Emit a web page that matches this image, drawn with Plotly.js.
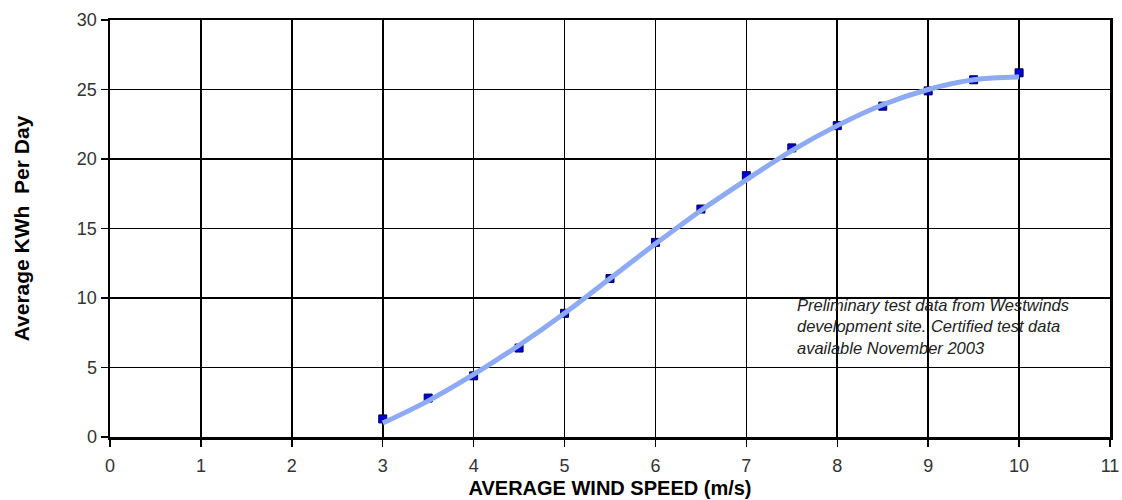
<!DOCTYPE html>
<html>
<head>
<meta charset="utf-8">
<script src="https://cdn.plot.ly/plotly-3.0.1.min.js"></script>
<style>html,body{margin:0;padding:0;background:#fff;}#chart{width:1122px;height:500px;}</style>
</head>
<body>
<div id="chart"></div>
<script>
// Measured data points (average wind speed m/s vs average kWh per day)
const windSpeed = [3, 3.5, 4, 4.5, 5, 5.5, 6, 6.5, 7, 7.5, 8, 8.5, 9, 9.5, 10];
const kwhPerDay = [1.3, 2.8, 4.4, 6.4, 8.9, 11.4, 14.0, 16.4, 18.8, 20.8, 22.4, 23.8, 24.9, 25.7, 26.2];
// Smoothed trend curve
const trendSpeed = [3, 3.5, 4, 4.5, 5, 5.5, 6, 6.5, 7, 7.5, 8, 8.5, 9, 9.5, 10];
const trendKwh = [1.0, 2.6, 4.5, 6.6, 8.9, 11.4, 13.9, 16.3, 18.5, 20.6, 22.4, 23.9, 25.0, 25.7, 25.9];
const xTicks = [0, 1, 2, 3, 4, 5, 6, 7, 8, 9, 10, 11];
const yTicks = [0, 5, 10, 15, 20, 25, 30];
const noteLines = ["Preliminary test data from Westwinds", "development site. Certified test data", "available November 2003"];
const noteY = [9.5, 8.0, 6.4];

const font = "Liberation Sans, Arial, sans-serif";

const traces = [
  {
    x: windSpeed, y: kwhPerDay, type: 'scatter', mode: 'markers',
    marker: {symbol: 'square', size: 8, color: '#0000dd', line: {color: '#000044', width: 1}},
    hoverinfo: 'x+y', showlegend: false
  },
  {
    x: trendSpeed, y: trendKwh, type: 'scatter', mode: 'lines',
    line: {shape: 'spline', color: '#8eaaf2', width: 5, smoothing: 1},
    showlegend: false
  }
];

const annotations = noteLines.map((t, i) => ({
  text: '<i>' + t + '</i>', x: 7.54, y: noteY[i], xref: 'x', yref: 'y', xanchor: 'left', yanchor: 'middle',
  showarrow: false, font: {family: font, size: 16.5, color: '#222'}
}));

const layout = {
  width: 1122, height: 500,
  margin: {l: 110, r: 12, t: 20, b: 63},
  paper_bgcolor: '#fff', plot_bgcolor: '#fff',
  xaxis: {
    range: [0, 11], tickvals: xTicks, ticktext: xTicks.map(String),
    showgrid: true, gridcolor: '#000', gridwidth: 1.7,
    showline: true, linecolor: '#000', linewidth: 2.5, mirror: true,
    ticks: 'outside', ticklen: 7, tickcolor: '#000', tickwidth: 1.5,
    ticklabelstandoff: 4,
    zeroline: false,
    tickfont: {family: font, size: 18, color: '#333'},
    title: {text: '<b>AVERAGE WIND SPEED (m/s)</b>', font: {family: font, size: 20, color: '#000'}, standoff: 6}
  },
  yaxis: {
    range: [0, 30], tickvals: yTicks, ticktext: yTicks.map(String),
    showgrid: true, gridcolor: '#000', gridwidth: 1.7,
    showline: true, linecolor: '#000', linewidth: 2.5, mirror: true,
    ticks: 'outside', ticklen: 7, tickcolor: '#000', tickwidth: 1.5,
    zeroline: false,
    tickfont: {family: font, size: 18, color: '#333'},
    title: {text: '<b>Average KWh\u00A0 Per Day</b>', font: {family: font, size: 21, color: '#000'}, standoff: 42}
  },
  annotations: annotations,
  showlegend: false
};

Plotly.newPlot('chart', traces, layout, {displayModeBar: false, staticPlot: true});
</script>
</body>
</html>
